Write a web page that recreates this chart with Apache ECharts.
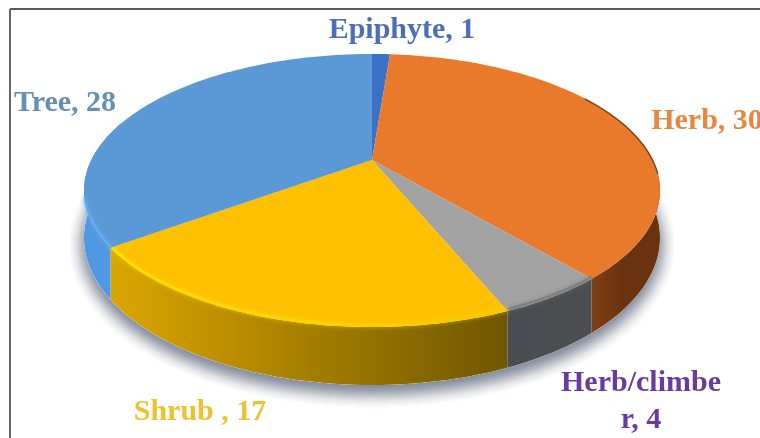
<!DOCTYPE html>
<html>
<head>
<meta charset="utf-8">
<style>
  html, body { margin: 0; padding: 0; background: #fff; overflow: hidden; }
  #chart { width: 760px; height: 438px; filter: blur(0.6px); }
</style>
<script src="https://cdn.jsdelivr.net/npm/echarts@6/dist/echarts.min.js"></script>
</head>
<body>
<div id="chart"></div>
<script>
const categories = ['Epiphyte', 'Herb', 'Herb/climbe\nr', 'Shrub ', 'Tree'];
const values = [1, 30, 4, 17, 28];

// styles, same order as categories
const topColors = ['#3b71c6', '#e97a2c', '#a3a3a3', '#ffc000', '#5a98d6'];
const sideColors = [
  ['#2c5596', '#2c5596'],
  ['#7e3f15', '#6a3310'],
  ['#494c50', '#4c4f52'],
  ['#dba600', '#6f5600'],
  ['#5198e2', '#3f83c9']
];
const rimColors = [
  null,
  null,
  ['#7a7a7a', '#7a7a7a'],
  ['#ffe600', '#ffc000'],
  ['#66aef0', '#66aef0']
];
const rimRange = [72, 254];
const labelColors = ['#4a6fb8', '#e6873f', '#6b3a9e', '#eec22e', '#6390b8'];
const labelPos = [[402, 30], [707, 121], [641, 402], [200, 412], [65, 103]];

// fake perspective of the disc, in pixels
const cx = 372, cy = 160, persp = 0.2234;
const scaleX = 280.7, scaleY = 129.7, depth = 45;

const total = values.reduce((a, b) => a + b, 0);
let acc = 0;
const sliceRows = values.map((v) => {
  const start = acc / total * 360;
  acc += v;
  return [start, acc / total * 360];
});

function project(deg, d) {
  const a = deg * Math.PI / 180;
  const u = Math.sin(a), v = -Math.cos(a);
  const w = 1 - persp * v;
  return [cx + scaleX * u / w, cy + (scaleY * v + d) / w];
}

function arc(from, to, d) {
  const pts = [];
  const n = Math.max(2, Math.ceil((to - from) / 1.5));
  for (let i = 0; i <= n; i++) pts.push(project(from + (to - from) * i / n, d));
  return pts;
}

const toPx = (api, pts) => pts.map((p) => api.coord(p));

function horizontal(api, from, to, c0, c1) {
  const x0 = api.coord(project(from, 0))[0], x1 = api.coord(project(to, 0))[0];
  // clockwise on the front means right to left, the colours run left to right
  return new echarts.graphic.LinearGradient(Math.min(x0, x1), 0, Math.max(x0, x1), 0, [
    { offset: 0, color: c0 },
    { offset: 1, color: c1 }
  ], true);
}

function renderShadow(params, api) {
  return {
    type: 'polygon',
    shape: { points: toPx(api, arc(0, 360, depth)) },
    style: {
      fill: '#fff',
      shadowBlur: 16,
      shadowColor: 'rgba(95,105,125,0.3)',
      shadowOffsetY: 7
    }
  };
}

function renderSide(params, api) {
  const i = params.dataIndex;
  // only the front of the rim ever shows
  const from = Math.max(api.value(0), 72);
  const to = Math.min(api.value(1), 288);
  if (to <= from) return;
  const top = arc(from, to, 0), bottom = arc(from, to, depth).reverse();
  return {
    type: 'polygon',
    shape: { points: toPx(api, top.concat(bottom)) },
    style: { fill: horizontal(api, from, to, sideColors[i][0], sideColors[i][1]) }
  };
}

function renderTop(params, api) {
  const i = params.dataIndex;
  const from = api.value(0), to = api.value(1);
  const pts = [[cx, cy]].concat(arc(from, to, 0));
  const children = [{
    type: 'polygon',
    shape: { points: toPx(api, pts) },
    style: { fill: topColors[i] }
  }];
  if (rimColors[i]) {
    const a = Math.max(from, rimRange[0]), b = Math.min(to, rimRange[1]);
    children.push({
      type: 'polyline',
      shape: { points: toPx(api, arc(a, b, -1.5)) },
      style: {
        fill: 'none',
        stroke: horizontal(api, a, b, rimColors[i][0], rimColors[i][1]),
        lineWidth: 2.5,
        opacity: 0.8,
        shadowBlur: 5,
        shadowColor: rimColors[i][0]
      }
    });
  }
  // dark thin edge along the back right of the orange slice
  if (i === 1) {
    children.push({
      type: 'polyline',
      shape: { points: toPx(api, arc(58, 96, 0.5)) },
      style: { fill: 'none', stroke: '#7b4a22', lineWidth: 1.5 }
    });
  }
  return { type: 'group', children };
}

function renderLabel(params, api) {
  const i = params.dataIndex;
  const p = api.coord(labelPos[i]);
  return {
    type: 'text',
    x: p[0],
    y: p[1],
    style: {
      text: categories[i] + ', ' + values[i],
      fill: labelColors[i],
      font: 'bold 30px "Liberation Serif"',
      textAlign: 'center',
      textVerticalAlign: 'middle',
      lineHeight: 37
    }
  };
}

function layer(renderItem, z) {
  return {
    type: 'custom',
    data: sliceRows,
    renderItem,
    z,
    clip: false,
    silent: true,
    encode: { x: -1, y: -1 }
  };
}

const chart = echarts.init(document.getElementById('chart'));
chart.setOption({
  animation: false,
  grid: { left: 0, right: 0, top: 0, bottom: 0 },
  xAxis: { type: 'value', min: 0, max: 760, show: false },
  yAxis: { type: 'value', min: 0, max: 438, inverse: true, show: false },
  graphic: [
    { type: 'line', shape: { x1: 10, y1: 9, x2: 760, y2: 9 }, style: { stroke: '#222', lineWidth: 1.5 } },
    { type: 'line', shape: { x1: 10, y1: 9, x2: 10, y2: 438 }, style: { stroke: '#666', lineWidth: 2 } }
  ],
  series: [
    layer(renderShadow, 1),
    layer(renderSide, 2),
    layer(renderTop, 3),
    layer(renderLabel, 4)
  ]
});
</script>
</body>
</html>
